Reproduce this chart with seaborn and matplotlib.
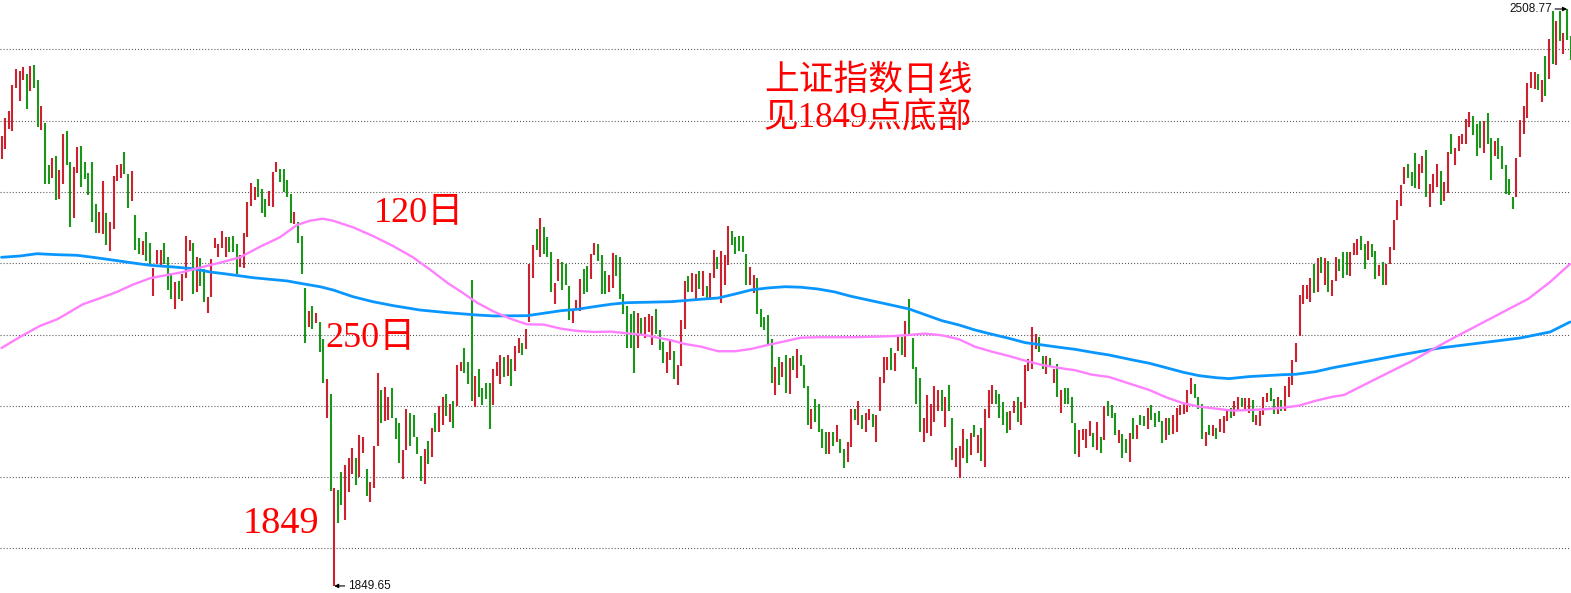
import numpy as np
import pandas as pd
import matplotlib
matplotlib.use("Agg")
import matplotlib.pyplot as plt
import seaborn as sns

# ---- daily high / low (index points) ----
highs = [
    2364, 2384, 2392, 2422, 2440, 2438, 2442, 2434, 2444, 2445,
    2428, 2398, 2378, 2330, 2338, 2341, 2325, 2366, 2369, 2334,
    2328, 2351, 2352, 2334, 2321, 2334, 2286, 2277, 2312, 2276,
    2266, 2318, 2330, 2332, 2345, 2320, 2324, 2273, 2247, 2244,
    2254, 2241, 2213, 2234, 2233, 2242, 2226, 2207, 2197, 2198,
    2206, 2250, 2245, 2242, 2226, 2224, 2212, 2180, 2223, 2247,
    2240, 2255, 2248, 2248, 2250, 2240, 2228, 2253, 2288, 2310,
    2305, 2314, 2303, 2292, 2301, 2322, 2334, 2326, 2326, 2313,
    2297, 2277, 2266, 2250, 2190, 2164, 2170, 2161, 2151, 2132,
    2086, 2069, 1962, 1959, 1980, 1988, 1996, 2007, 1996, 2022,
    2020, 1983, 1968, 2009, 2093, 2074, 2077, 2066, 2076, 2042,
    2036, 2005, 2052, 2047, 2045, 2020, 1998, 2006, 2015, 2030,
    2047, 2055, 2066, 2069, 2058, 2061, 2102, 2106, 2122, 2106,
    2199, 2090, 2098, 2076, 2082, 2081, 2097, 2105, 2113, 2111,
    2113, 2109, 2124, 2133, 2127, 2143, 2218, 2239, 2258, 2270,
    2260, 2248, 2231, 2196, 2223, 2220, 2217, 2192, 2166, 2176,
    2200, 2212, 2215, 2229, 2242, 2240, 2228, 2210, 2205, 2230,
    2228, 2226, 2183, 2170, 2160, 2164, 2161, 2156, 2157, 2160,
    2158, 2166, 2142, 2128, 2117, 2129, 2118, 2102, 2153, 2198,
    2204, 2207, 2206, 2210, 2209, 2192, 2207, 2234, 2225, 2232,
    2228, 2261, 2255, 2248, 2249, 2250, 2229, 2214, 2205, 2201,
    2166, 2157, 2159, 2132, 2100, 2111, 2106, 2114, 2110, 2112,
    2120, 2113, 2102, 2078, 2052, 2063, 2057, 2029, 2026, 2026,
    2026, 2034, 2017, 2006, 2014, 2052, 2052, 2061, 2045, 2047,
    2052, 2046, 2045, 2088, 2111, 2111, 2122, 2116, 2134, 2134,
    2152, 2177, 2133, 2100, 2087, 2041, 2068, 2058, 2078, 2073,
    2074, 2065, 2079, 2042, 2007, 2010, 2029, 2017, 2024, 2034,
    2022, 2030, 2052, 2073, 2079, 2074, 2069, 2060, 2048, 2050,
    2061, 2065, 2060, 2102, 2109, 2146, 2138, 2134, 2112, 2112,
    2110, 2098, 2103, 2073, 2076, 2076, 2065, 2036, 2028, 2029,
    2029, 2038, 2024, 2037, 2020, 2055, 2061, 2056, 2047, 2028,
    2023, 2017, 2024, 2041, 2034, 2045, 2044, 2053, 2056, 2047,
    2049, 2038, 2041, 2041, 2045, 2053, 2056, 2058, 2073, 2087,
    2080, 2066, 2058, 2026, 2033, 2034, 2030, 2040, 2044, 2052,
    2053, 2061, 2066, 2064, 2064, 2064, 2062, 2045, 2050, 2066,
    2070, 2076, 2063, 2066, 2062, 2078, 2088, 2108, 2127, 2182,
    2193, 2194, 2202, 2218, 2224, 2226, 2224, 2221, 2199, 2225,
    2223, 2231, 2231, 2231, 2242, 2246, 2249, 2240, 2244, 2240,
    2232, 2216, 2220, 2217, 2237, 2268, 2290, 2308, 2328, 2332,
    2322, 2344, 2332, 2341, 2348, 2309, 2320, 2332, 2324, 2311,
    2345, 2366, 2350, 2364, 2366, 2383, 2391, 2386, 2377, 2381,
    2381, 2390, 2361, 2358, 2361, 2352, 2330, 2314, 2294, 2338,
    2382, 2398, 2424, 2437, 2437, 2434, 2428, 2455, 2474, 2507,
    2495, 2506, 2481, 2508.77, 2478,
]
lows = [
    2337, 2349, 2372, 2369, 2418, 2404, 2428, 2394, 2415, 2418,
    2374, 2370, 2309, 2309, 2316, 2290, 2292, 2309, 2330, 2260,
    2270, 2321, 2305, 2314, 2296, 2265, 2253, 2253, 2252, 2239,
    2232, 2257, 2312, 2316, 2320, 2281, 2289, 2233, 2229, 2228,
    2221, 2217, 2181, 2217, 2215, 2217, 2188, 2177, 2166, 2178,
    2175, 2201, 2232, 2183, 2185, 2192, 2174, 2162, 2180, 2236,
    2225, 2236, 2226, 2231, 2231, 2206, 2214, 2213, 2248, 2284,
    2290, 2294, 2276, 2271, 2284, 2282, 2322, 2311, 2300, 2294,
    2264, 2263, 2241, 2206, 2127, 2145, 2143, 2150, 2117, 2082,
    2042, 1958, 1849.65, 1922, 1942, 1925, 1957, 1977, 1965, 1974,
    2001, 1952, 1945, 1961, 2010, 2036, 2038, 2039, 2042, 2017,
    1990, 1972, 2005, 2010, 2020, 2000, 1970, 1966, 1989, 1997,
    2025, 2025, 2034, 2044, 2037, 2030, 2055, 2095, 2093, 2080,
    2061, 2054, 2065, 2056, 2063, 2029, 2056, 2090, 2080, 2088,
    2089, 2078, 2095, 2116, 2114, 2120, 2151, 2202, 2233, 2226,
    2229, 2226, 2185, 2172, 2198, 2188, 2193, 2154, 2150, 2165,
    2164, 2183, 2186, 2200, 2228, 2221, 2183, 2183, 2185, 2190,
    2204, 2177, 2160, 2122, 2122, 2093, 2121, 2138, 2133, 2140,
    2125, 2138, 2119, 2104, 2093, 2108, 2086, 2079, 2101, 2143,
    2186, 2186, 2177, 2189, 2181, 2177, 2178, 2202, 2212, 2173,
    2193, 2216, 2239, 2229, 2232, 2231, 2193, 2194, 2184, 2160,
    2146, 2142, 2126, 2082, 2068, 2079, 2088, 2070, 2069, 2096,
    2087, 2101, 2076, 2033, 2029, 2037, 2026, 2007, 2000, 2000,
    2009, 2014, 2001, 1984, 1991, 2008, 2039, 2034, 2029, 2026,
    2039, 2031, 2014, 2049, 2082, 2096, 2096, 2095, 2118, 2113,
    2111, 2138, 2098, 2058, 2026, 2014, 2024, 2021, 2037, 2050,
    2049, 2031, 2050, 1994, 1985, 1973, 1996, 1990, 1999, 2020,
    2002, 1992, 1985, 2042, 2057, 2057, 2042, 2034, 2024, 2028,
    2047, 2037, 2034, 2053, 2095, 2097, 2120, 2117, 2097, 2092,
    2101, 2081, 2065, 2047, 2058, 2057, 2036, 2000, 1997, 2016,
    2007, 2021, 2008, 2005, 2001, 2016, 2044, 2042, 2022, 2013,
    1996, 2002, 1991, 2018, 2017, 2034, 2032, 2029, 2039, 2031,
    2037, 2013, 2016, 2022, 2023, 2026, 2045, 2046, 2048, 2069,
    2064, 2052, 2017, 2010, 2022, 2021, 2017, 2025, 2024, 2038,
    2041, 2044, 2049, 2054, 2049, 2047, 2037, 2034, 2032, 2045,
    2060, 2061, 2046, 2046, 2049, 2049, 2066, 2079, 2106, 2135,
    2172, 2177, 2174, 2184, 2186, 2207, 2193, 2185, 2181, 2198,
    2209, 2202, 2205, 2204, 2228, 2228, 2233, 2212, 2222, 2225,
    2200, 2204, 2194, 2193, 2217, 2234, 2268, 2284, 2309, 2316,
    2306, 2304, 2303, 2321, 2294, 2282, 2298, 2305, 2285, 2289,
    2298, 2343, 2330, 2346, 2354, 2354, 2374, 2365, 2341, 2350,
    2344, 2354, 2313, 2341, 2337, 2326, 2297, 2296, 2280, 2294,
    2340, 2366, 2384, 2418, 2417, 2416, 2402, 2409, 2429, 2446,
    2445, 2472, 2457, 2473, 2450,
]
# R = up day (red), G = down day (green)
updown = (
    "RRRRRRRGRG" "GRGGRGRRGG" "RRGGGGGRRG" "RRRRGGRGGR" "GGRRRGGGRG"
    "RRRGRGGRRR" "RRRGGGRRRR" "RGGGRRRGGG" "GRGGGRGRGG" "RGRGGRRRGR"
    "RGRRRGRRGG" "GRRGGGGRGR" "GRRGRGRRGG" "GRGGGGRRRG" "RGRRGRRRGR"
    "GGGRRGGGRR" "RGGRRGGGRR" "GGGGGGRGRR" "RGGGRRGRRR" "GRRGRGRRGR"
    "RRGGGGGRRG" "GGGGRGRGRG" "RGGGRGGGGR" "GRGGRRGRGR" "RGRRRRGRRG"
    "RGGGGRRRRR" "GRGGRRRGRG" "RGRRRGGGGR" "RGRRRRRGGR" "GRGRGGGGRR"
    "RRGRGRGGGR" "GGRGRGGRGG" "GGRGRRRRRR" "GGGRGRGRRR" "GRRGRRGRRR"
    "RGGRGRRRRR" "RRRGRGRGRR" "GGGRRRGGRG" "GRGRRRRRRG" "GGRRGRRRGR"
    "RGRRRRRGGG" "RGGRGGGGGR" "RRRRRGRGRG" "RGRGG"
)

# ---- 120-day moving average: (bar position, value) ----
ma120_pos = [
    0, 5.1, 10.6, 15.4, 18.1, 22.5, 27.2, 31.9, 36.4, 41.1,
    45.8, 50.2, 54.9, 61.5, 66.0, 71.5, 77.0, 81.7, 85.3, 88.9,
    91.7, 97.2, 102.7, 108.3, 113.8, 119.3, 123.5, 127.1, 131.5, 136.2,
    140.9, 145.3, 150.0, 154.7, 159.2, 163.9, 168.6, 173.0, 177.7, 185.2,
    189.0, 193.5, 198.2, 202.9, 207.3, 212.0, 216.7, 221.1, 225.8, 234.9,
    241.6, 247.1, 255.4, 260.1, 264.8, 269.2, 273.9, 278.6, 283.1, 287.8,
    292.5, 296.9, 301.6, 306.3, 312.9, 317.4, 322.1, 326.8, 331.2, 335.9,
    340.6, 345.0, 349.7, 354.4, 358.8, 363.5, 368.3, 371.3, 380.1, 390.1,
    400.0, 410.0, 422.2, 428.3, 433.8,
]
ma120 = [
    2121.5, 2134.1, 2146.7, 2154.3, 2160.7, 2171.5, 2178.3, 2185.5, 2194.0, 2201.2,
    2204.9, 2208.3, 2213.3, 2220.1, 2225.1, 2237.2, 2248.0, 2262.0, 2266.9, 2269.2,
    2266.9, 2259.4, 2249.5, 2238.0, 2225.1, 2208.7, 2195.4, 2185.8, 2173.3, 2163.0,
    2154.7, 2148.6, 2148.2, 2143.6, 2141.0, 2139.8, 2140.2, 2138.3, 2136.4, 2130.3,
    2126.1, 2123.0, 2117.8, 2117.8, 2120.4, 2125.0, 2129.2, 2133.3, 2133.8, 2133.8,
    2134.4, 2135.2, 2137.9, 2136.0, 2131.5, 2123.0, 2117.3, 2112.4, 2107.0, 2102.1,
    2098.7, 2096.1, 2091.0, 2088.4, 2079.6, 2073.6, 2065.2, 2058.4, 2054.5, 2052.2,
    2049.9, 2050.7, 2051.5, 2053.3, 2055.6, 2061.3, 2065.9, 2067.8, 2086.1, 2106.7,
    2129.5, 2151.2, 2177.5, 2196.9, 2217.4,
]
# ---- 250-day moving average ----
ma250_pos = [
    0, 5.1, 9.8, 15.4, 20.9, 25.3, 30.0, 36.4, 41.1, 47.4,
    53.0, 57.7, 61.5, 69.6, 79.0, 82.6, 88.1, 91.7, 97.2, 102.7,
    108.3, 115.7, 123.2, 131.5, 136.2, 145.3, 150.0, 154.7, 159.2, 163.9,
    168.6, 173.0, 177.7, 185.2, 193.5, 198.2, 202.9, 207.3, 212.0, 216.7,
    221.1, 225.8, 230.5, 234.9, 239.6, 244.4, 251.0, 255.4, 260.1, 264.8,
    269.2, 273.9, 278.6, 283.1, 287.8, 292.5, 296.9, 301.6, 306.3, 312.9,
    317.4, 322.1, 326.8, 331.2, 335.9, 339.5, 345.0, 349.7, 354.4, 358.0,
    363.5, 368.3, 371.3, 386.8, 397.8, 408.9, 420.0, 428.3, 433.8,
]
ma250 = [
    2225.1, 2226.6, 2229.2, 2228.1, 2227.4, 2225.1, 2222.4, 2218.6, 2216.0, 2214.1,
    2212.1, 2208.3, 2206.4, 2201.8, 2198.1, 2195.4, 2191.5, 2187.8, 2180.1, 2174.4,
    2169.9, 2164.9, 2161.9, 2159.2, 2158.1, 2158.4, 2161.2, 2164.1, 2165.7, 2168.7,
    2171.5, 2173.3, 2173.7, 2174.4, 2177.2, 2178.6, 2183.2, 2187.8, 2190.1, 2191.5,
    2190.9, 2188.9, 2185.5, 2180.6, 2176.4, 2172.1, 2166.1, 2159.6, 2152.7, 2147.8,
    2142.1, 2137.2, 2132.6, 2127.6, 2125.0, 2122.3, 2120.0, 2116.6, 2113.5, 2107.8,
    2104.1, 2099.0, 2093.8, 2089.9, 2087.6, 2086.5, 2088.8, 2089.9, 2091.0, 2091.5,
    2094.5, 2099.0, 2101.3, 2113.5, 2121.5, 2127.2, 2132.9, 2139.8, 2151.2,
]
grid_levels = [2462.7, 2381.3, 2299.8, 2218.4, 2136.9, 2055.6, 1974.0, 1892.6]

title_lines = ["上证指数日线", "见1849点底部"]
label_120 = "120日"
label_250 = "250日"
label_low = "1849"
low_value = 1849.65
high_value = 2508.77

assert len(highs) == len(lows) == len(updown)
assert len(ma120_pos) == len(ma120) and len(ma250_pos) == len(ma250)

sns.set_theme(style="white")
plt.rcParams["lines.scale_dashes"] = False
cjk = ["Liberation Serif", "Noto Sans CJK SC"]

fig = plt.figure(figsize=(15.71, 5.93), dpi=100)
ax = fig.add_axes([0, 0, 1, 1])

n = len(highs)
xs = np.arange(n)
i_low = int(np.argmin(lows))
i_high = int(np.argmax(highs))

for lvl in grid_levels:
    ax.axhline(lvl, color="#555555", lw=0.8, linestyle=(0, (0.75, 1.45)), zorder=1)

colors = ["#cc2230" if c == "R" else "#1a961a" for c in updown]
ax.vlines(xs, lows, highs, colors=colors, lw=1.5, zorder=2)

df250 = pd.DataFrame({"pos": ma250_pos, "value": ma250})
df120 = pd.DataFrame({"pos": ma120_pos, "value": ma120})
sns.lineplot(data=df250, x="pos", y="value", color="#0a96ff", lw=2.0, ax=ax, zorder=3,
             sort=False, estimator=None)
sns.lineplot(data=df120, x="pos", y="value", color="#ff80ff", lw=1.7, ax=ax, zorder=3,
             sort=False, estimator=None)

ax.set_xlim(-0.415, 434.08)
ax.set_ylim(1841.6, 2519.05)
ax.axis("off")

red = "#ff0000"
ax.text(0.5525, 0.862, title_lines[0], transform=ax.transAxes, ha="center", va="center",
        fontsize=25, color=red, family=cjk, zorder=5)
ax.text(0.552, 0.801, title_lines[1], transform=ax.transAxes, ha="center", va="center",
        fontsize=25, color=red, family=cjk, zorder=5)
ax.text(0.2380, 0.6262, label_120, transform=ax.transAxes, ha="left", va="baseline",
        fontsize=26, color=red, family=cjk, zorder=5)
ax.text(0.2069, 0.4153, label_250, transform=ax.transAxes, ha="left", va="baseline",
        fontsize=26, color=red, family=cjk, zorder=5)
ax.text(0.1547, 0.1012, label_low, transform=ax.transAxes, ha="left", va="baseline",
        fontsize=27.5, color=red, family=cjk, zorder=5)

arrow = dict(arrowstyle="-|>", color="black", lw=0.8, shrinkA=0, shrinkB=0, mutation_scale=6)
ax.annotate(f"{low_value:.2f}", xy=(i_low, low_value), xytext=(10, 0), textcoords="offset points",
            ha="left", va="center", fontsize=8.5, family="Liberation Sans", color="#111111",
            arrowprops=arrow, zorder=6)
ax.annotate(f"{high_value:.2f}", xy=(i_high, high_value), xytext=(-11, 0), textcoords="offset points",
            ha="right", va="center", fontsize=8.5, family="Liberation Sans", color="#111111",
            arrowprops=arrow, zorder=6)

fig.savefig("out.png", dpi=100, facecolor="white")
